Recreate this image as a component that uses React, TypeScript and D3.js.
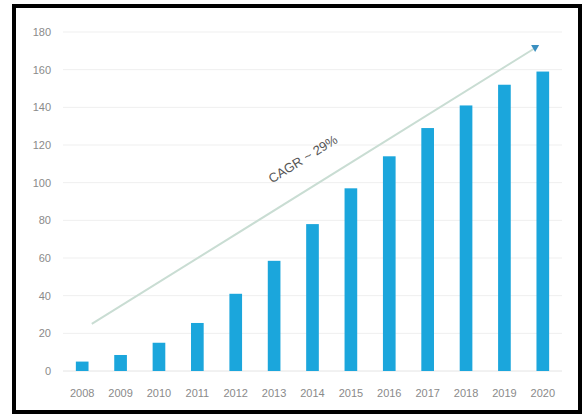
import React from "react";
import * as d3 from "d3";

const years = ["2008","2009","2010","2011","2012","2013","2014","2015","2016","2017","2018","2019","2020"];
const values = [5, 8.5, 15, 25.5, 41, 58.5, 78, 97, 114, 129, 141, 152, 159];
const yTicks = [0, 20, 40, 60, 80, 100, 120, 140, 160, 180];
const trendStart = [0.25, 25];
const trendEnd = [11.8, 171.5];
const trendLabel = "CAGR ~ 29%";

const W = 584, H = 416;
const left = 63, right = 562, top = 32, bottom = 371;

export default function App() {
  const x = d3.scaleBand<string>().domain(years).range([left, right]).paddingInner(0.67).paddingOuter(0.335);
  const y = d3.scaleLinear().domain([0, 180]).range([bottom, top]);
  const step = x.step();
  const cx = (i: number) => (x(years[0]) as number) + x.bandwidth() / 2 + i * step;
  const x1 = cx(trendStart[0]), y1 = y(trendStart[1]);
  const x2 = cx(trendEnd[0]), y2 = y(trendEnd[1]);
  const ang = (Math.atan2(y2 - y1, x2 - x1) * 180) / Math.PI;
  const mx = x1 + (x2 - x1) * 0.51, my = y1 + (y2 - y1) * 0.51;
  const font = "'Liberation Sans', Arial, sans-serif";
  return (
    <svg width={W} height={H} style={{ position: "absolute", left: 0, top: 0, background: "#fff" }}>
      <rect x={0} y={0} width={W} height={H} fill="#fff" />
      {yTicks.map((t) => (
        <g key={t}>
          <line x1={left} x2={right} y1={y(t)} y2={y(t)} stroke={t === 0 ? "#e4e4e4" : "#efefef"} strokeWidth={1} />
          <text x={51} y={y(t)} dy="0.35em" textAnchor="end" fontSize={11} fill="#8a8a8a" fontFamily={font}>{t}</text>
        </g>
      ))}
      {years.map((yr, i) => (
        <g key={yr}>
          <rect x={x(yr)} y={y(values[i])} width={x.bandwidth()} height={y(0) - y(values[i])} fill="#1ba6dc" />
          <text x={(x(yr) as number) + x.bandwidth() / 2} y={397} textAnchor="middle" fontSize={11} fill="#8a8a8a" fontFamily={font}>{yr}</text>
        </g>
      ))}
      <line x1={x1} y1={y1} x2={x2} y2={y2} stroke="#c9ddd3" strokeWidth={2} />
      <g transform={`translate(${x2},${y2})`}>
        <path d="M-4,-3 L4,-3 L0,4 Z" fill="#3a8fc0" />
      </g>
      <text transform={`translate(${mx},${my}) rotate(${ang})`} y={-24} textAnchor="middle" fontSize={13} fill="#555" fontFamily={font}>{trendLabel}</text>
      <rect x={14} y={6} width={566} height={406} fill="none" stroke="#000" strokeWidth={4} />
    </svg>
  );
}
